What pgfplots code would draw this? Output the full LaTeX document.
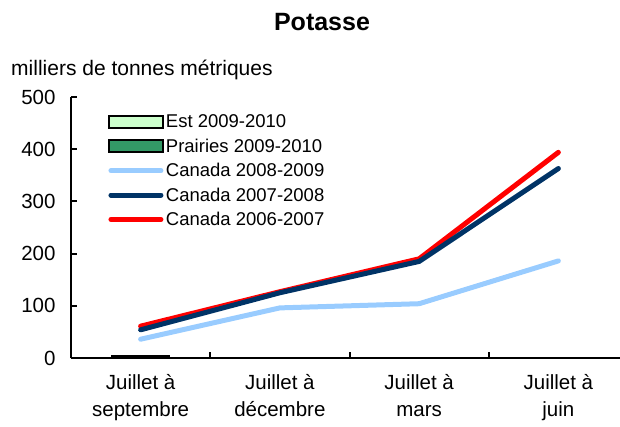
\documentclass[border=0pt]{standalone}
\usepackage{pgfplots}
\pgfplotsset{compat=1.18}
\usepackage{fontspec}
\setmainfont{Liberation Sans}
\definecolor{estg}{RGB}{204,255,204}
\definecolor{prag}{RGB}{51,153,102}
\definecolor{lblue}{RGB}{153,204,255}
\definecolor{dblue}{RGB}{0,51,102}
\definecolor{cred}{RGB}{255,0,0}
\begin{document}
\begin{tikzpicture}[x=1pt,y=1pt]
\useasboundingbox (0,0) rectangle (620,426);
\node[font=\fontsize{25}{30}\selectfont\bfseries] at (322,404) {Potasse};
\node[font=\fontsize{21}{25}\selectfont, anchor=west, inner sep=0pt] at (11,356) {milliers de tonnes métriques};
\begin{axis}[
  at={(71pt,68pt)}, anchor=south west,
  scale only axis, width=557pt, height=261pt,
  xmin=-0.5, xmax=3.5, ymin=0, ymax=500,
  axis x line=bottom, axis y line=left,
  axis line style={-, line width=2.5pt, black},
  xtick={0,1,2,3},
  xticklabels={{Juillet à\\septembre},{Juillet à\\décembre},{Juillet à\\mars},{Juillet à\\juin}},
  major x tick style={draw=none},
  minor xtick={0.5,1.5,2.5},
  minor tick length=6pt,
  major tick length=6pt,
  tick align=inside,
  tick style={line width=2pt, black},
  ytick={0,100,...,500},
  /pgf/number format/assume math mode=true,
  ticklabel style={font=\fontsize{20.5}{27}\selectfont},
  xticklabel style={align=center, yshift=-13pt},
  yticklabel style={xshift=-12pt},
  legend style={draw=none, fill=none, at={(0.066,0.94)}, anchor=north west,
    font=\fontsize{18.5}{22}\selectfont, row sep=5.5pt, inner sep=0pt,
    /tikz/every even column/.append style={column sep=0pt}},
  legend cell align=left,
]
\addplot[ybar, bar width=28pt, bar shift=-14pt, fill=estg, draw=black, line width=2.5pt,
  legend image code/.code={\draw[fill=estg, draw=black, line width=2pt] (0pt,-6pt) rectangle (54pt,6pt);}]
  coordinates {(0,4)};
\addlegendentry{Est 2009-2010}
\addplot[ybar, bar width=28pt, bar shift=14pt, fill=prag, draw=black, line width=2.5pt,
  legend image code/.code={\draw[fill=prag, draw=black, line width=2pt] (0pt,-6pt) rectangle (54pt,6pt);}]
  coordinates {(0,4)};
\addlegendentry{Prairies 2009-2010}
\addplot[lblue, line width=5pt, line cap=round,
  legend image code/.code={\draw[lblue, line width=5pt, line cap=round] (2pt,0pt) -- (52pt,0pt);}]
  coordinates {(0,36) (1,96) (2,104) (3,186)};
\addlegendentry{Canada 2008-2009}
\addplot[cred, line width=5pt, line cap=round, forget plot]
  coordinates {(0,61) (1,127) (2,190) (3,394)};
\addplot[dblue, line width=5pt, line cap=round,
  legend image code/.code={\draw[dblue, line width=5pt, line cap=round] (2pt,0pt) -- (52pt,0pt);}]
  coordinates {(0,54) (1,125) (2,185) (3,363)};
\addlegendentry{Canada 2007-2008}
\addlegendimage{cred, line width=5pt, line cap=round,
  legend image code/.code={\draw[cred, line width=5pt, line cap=round] (2pt,0pt) -- (52pt,0pt);}}
\addlegendentry{Canada 2006-2007}
\end{axis}
\end{tikzpicture}
\end{document}
